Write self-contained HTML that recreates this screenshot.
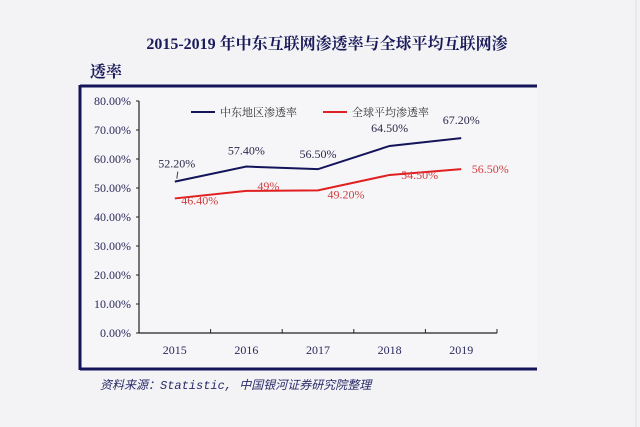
<!DOCTYPE html>
<html><head><meta charset="utf-8"><style>
body{margin:0;background:#f3f3f5;}
svg{display:block;}
</style></head><body>
<svg width="640" height="427" xmlns="http://www.w3.org/2000/svg">
<rect width="640" height="427" fill="#f3f3f5"/>
<line x1="636" y1="0" x2="636" y2="427" stroke="#dcdcdc" stroke-width="1"/>
<text x="327" y="49" text-anchor="middle" font-family="'Liberation Serif','Noto Serif CJK SC',serif" font-weight="bold" font-size="16" fill="#1a1a5a">2015-2019 年中东互联网渗透率与全球平均互联网渗</text>
<text x="90" y="77" font-family="'Liberation Serif','Noto Serif CJK SC',serif" font-weight="bold" font-size="16" fill="#1a1a5a">透率</text>
<rect x="81" y="86" width="456" height="283" fill="#f6f5f8"/>
<line x1="80" y1="86" x2="537" y2="86" stroke="#14145a" stroke-width="3"/>
<line x1="80" y1="369" x2="537" y2="369" stroke="#14145a" stroke-width="3"/>
<line x1="80" y1="85" x2="80" y2="370" stroke="#14145a" stroke-width="3"/>
<g id="axes"></g>
<g id="series"></g>
<g>
<line x1="191" y1="112" x2="215" y2="112" stroke="#14145a" stroke-width="2"/>
<text x="220" y="116" font-family="'Liberation Serif','Noto Serif CJK SC',serif" font-size="11" fill="#333">中东地区渗透率</text>
<line x1="323" y1="112" x2="347" y2="112" stroke="#e02020" stroke-width="2"/>
<text x="352" y="116" font-family="'Liberation Serif','Noto Serif CJK SC',serif" font-size="11" fill="#333">全球平均渗透率</text>
</g>
<text x="100" y="389" font-family="'Liberation Mono','Noto Sans CJK SC',monospace" font-style="italic" font-size="12" fill="#2a2a6a">资料来源：Statistic, 中国银河证券研究院整理</text>
</svg>
<script>
const categories=["2015","2016","2017","2018","2019"];
const meValues=[52.2,57.4,56.5,64.5,67.2];
const globalValues=[46.4,49,49.2,54.5,56.5];
const meLabels=["52.20%","57.40%","56.50%","64.50%","67.20%"];
const globalLabels=["46.40%","49%","49.20%","54.50%","56.50%"];
const yTicks=[0,10,20,30,40,50,60,70,80];
const NS="http://www.w3.org/2000/svg";
const x0=139,x1=497,y0=333,y1=101,ymax=80;
const bw=(x1-x0)/categories.length;
function xs(i){return x0+bw*(i+0.5);}
function ys(v){return y0-(v/ymax)*(y0-y1);}
function mk(tag,attrs,parent){const e=document.createElementNS(NS,tag);for(const k in attrs)e.setAttribute(k,attrs[k]);parent.appendChild(e);return e;}
const ax=document.getElementById('axes');
let e=mk('line',{x1:x0,y1:y1,x2:x0,y2:y0,stroke:'#222','stroke-width':1.2},ax);


e=mk('line',{x1:x0,y1:y0,x2:x1,y2:y0,stroke:'#222','stroke-width':1.2},ax);


yTicks.forEach(t=>{
 const l=mk('line',{x1:x0-3,y1:ys(t),x2:x0,y2:ys(t),stroke:'#222'},ax);
 
 
 const tx=mk('text',{x:x0-8,y:ys(t)+4,'text-anchor':'end','font-family':"'Liberation Serif',serif",'font-size':12,fill:'#2a2a5a'},ax);
 tx.textContent=t.toFixed(2)+'%';
 
 
});
for(let i=0;i<=categories.length;i++){
 const l=mk('line',{x1:x0+bw*i,y1:y0,x2:x0+bw*i,y2:y0-4,stroke:'#222'},ax);
 
 
}
categories.forEach((c,i)=>{
 const tx=mk('text',{x:xs(i),y:354,'text-anchor':'middle','font-family':"'Liberation Serif',serif",'font-size':12,fill:'#2a2a5a'},ax);
 tx.textContent=c;
 
 
});
const sg=document.getElementById('series');
function series(vals,labels,color,lblColor,name,offs){
 const p=mk('polyline',{points:vals.map((v,i)=>xs(i)+','+ys(v)).join(' '),fill:'none',stroke:color,'stroke-width':2},sg);
 
 
 vals.forEach((v,i)=>{
  const o=offs[i];
  const t=mk('text',{x:xs(i)+o[0],y:ys(v)+o[1],'text-anchor':'middle','font-family':"'Liberation Serif',serif",'font-size':12,fill:lblColor},sg);
  t.textContent=labels[i];
  
  
 });
}
series(meValues,meLabels,'#14145a','#2a2a4a','middle-east',[[2,-14],[0,-12],[0,-11],[0,-14],[0,-14]]);
series(globalValues,globalLabels,'#e02020','#d04040','global',[[25,6],[22,-1],[28,8],[30,4],[29,4]]);
const ld=mk('line',{x1:xs(0)+3,y1:ys(meValues[0])-10,x2:xs(0)+2,y2:ys(meValues[0])-3,stroke:'#444'},sg);


</script>
</body></html>
